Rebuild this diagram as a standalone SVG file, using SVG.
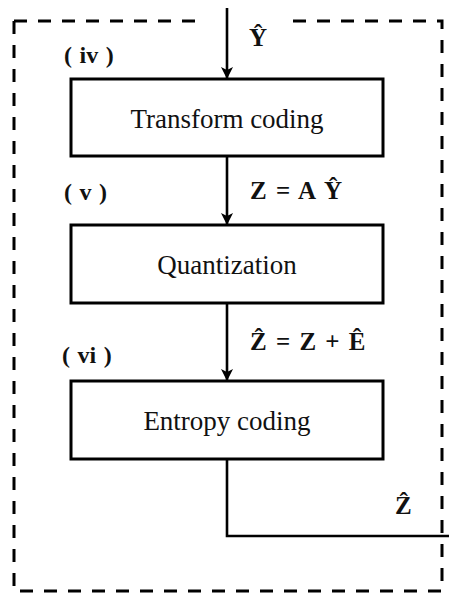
<svg xmlns="http://www.w3.org/2000/svg" width="449" height="595" viewBox="0 0 449 595">
  <style>
    .box { fill: #ffffff; stroke: #000000; stroke-width: 3; }
    .lbl { font-family: "Liberation Serif", "Times New Roman", serif; font-size: 27px; fill: #111111; text-anchor: middle; }
    .math { font-family: "Liberation Serif", "Times New Roman", serif; font-size: 25px; font-weight: bold; fill: #111111; word-spacing: 3px; }
    .tag { font-family: "Liberation Serif", "Times New Roman", serif; font-size: 24px; font-weight: bold; fill: #111111; word-spacing: 1.5px; }
    .wire { fill: none; stroke: #000000; stroke-width: 2.6; }
    .frame { fill: none; stroke: #000000; stroke-width: 3; stroke-dasharray: 13 11; }
  </style>
  <defs>
    <marker id="head" viewBox="0 0 12 12" refX="12" refY="6" markerWidth="12" markerHeight="12" markerUnits="userSpaceOnUse" orient="auto">
      <path d="M0,0 L12,6 L0,12 L3,6 Z" fill="#000000"/>
    </marker>
  </defs>
  <rect width="449" height="595" fill="#ffffff"/>

  <!-- dashed enclosure, open at the top where the input enters -->
  <g id="frame">
    <path class="frame" d="M14,21 L205,21"/>
    <path class="frame" d="M14,21 L14,591 L442,591 L442,21 L285,21"/>
  </g>

  <!-- connectors -->
  <g id="connectors">
    <line class="wire" x1="227" y1="8" x2="227" y2="79" marker-end="url(#head)"/>
    <line class="wire" x1="227" y1="156" x2="227" y2="225" marker-end="url(#head)"/>
    <line class="wire" x1="227" y1="303" x2="227" y2="381" marker-end="url(#head)"/>
    <polyline class="wire" points="227,459 227,536 449,536"/>
    <text class="math" x="249" y="46">Ŷ</text>
    <text class="math" x="250" y="199">Z = A Ŷ</text>
    <text class="math" x="250" y="350">Ẑ = Z + Ê</text>
    <text class="math" x="395" y="514">Ẑ</text>
  </g>

  <g id="transform">
    <rect class="box" x="71" y="79" width="312" height="77"/>
    <text class="lbl" x="227" y="128">Transform coding</text>
    <text class="tag" x="64" y="63">( iv )</text>
  </g>

  <g id="quantization">
    <rect class="box" x="71" y="225" width="312" height="78"/>
    <text class="lbl" x="227" y="274">Quantization</text>
    <text class="tag" x="64" y="200">( v )</text>
  </g>

  <g id="entropy">
    <rect class="box" x="71" y="381" width="312" height="78"/>
    <text class="lbl" x="227" y="430">Entropy coding</text>
    <text class="tag" x="62" y="363">( vi )</text>
  </g>
</svg>
